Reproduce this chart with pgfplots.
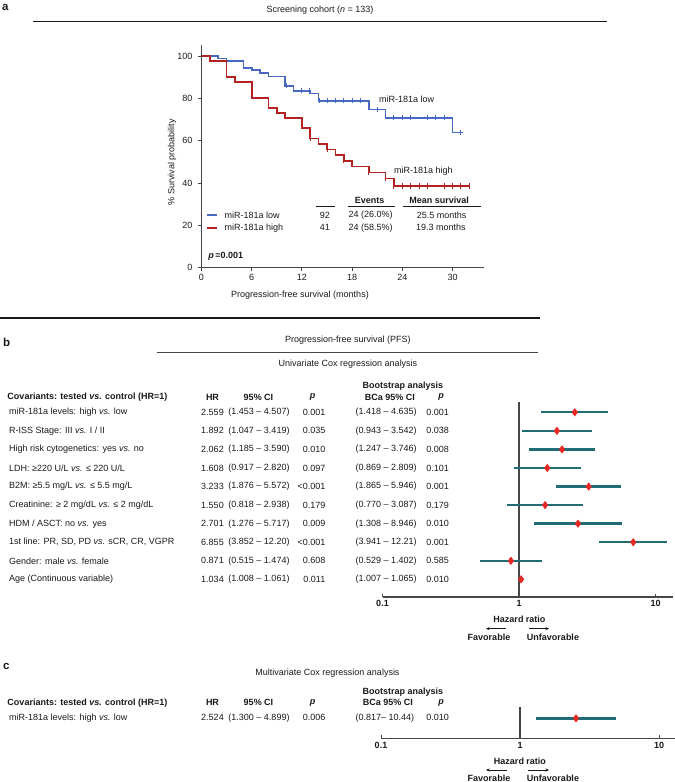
\documentclass[border=0pt]{standalone}
\usepackage{fontspec}
\setmainfont{Liberation Sans}
\usepackage{pgfplots}
\pgfplotsset{compat=1.18}
\usepackage{pgfplotstable}
\usetikzlibrary{arrows.meta}
\definecolor{kmblue}{RGB}{72,104,196}
\definecolor{kmred}{RGB}{178,34,34}
\definecolor{barteal}{RGB}{33,108,116}
\definecolor{dmdred}{RGB}{230,40,35}
\definecolor{txt}{RGB}{25,25,25}
\definecolor{axgray}{RGB}{70,70,70}
\newcommand\tf{\fontsize{9bp}{11bp}\selectfont}
\newcommand\lf{\fontsize{11.5bp}{13bp}\selectfont\bfseries}

\pgfplotstableread{
hr lo hi y
2.559 1.453 4.507 0
1.892 1.047 3.419 -1
2.062 1.185 3.590 -2
1.608 0.917 2.820 -3
3.233 1.876 5.572 -4
1.550 0.818 2.938 -5
2.701 1.276 5.717 -6
6.855 3.852 12.20 -7
0.871 0.515 1.474 -8
1.034 1.008 1.061 -9
}\uniTable
\pgfplotstableread{
hr lo hi y
2.524 1.300 4.899 0
}\multiTable

\newcommand\trow[7]{%
 \node[anchor=west] at (9,#1) {#2};
 \node at (212.5,#1) {#3};
 \node at (259,#1) {#4};
 \node[anchor=east] at (325.5,#1) {#5};
 \node[anchor=west] at (355.5,#1) {#6};
 \node at (437.7,#1) {#7};
}

\begin{document}
\begin{tikzpicture}
\useasboundingbox (0bp,0bp) rectangle (675bp,-782bp);

% ---------------- Panel a: Kaplan-Meier ----------------
\begin{axis}[
 at={(201.5bp,-267.5bp)}, anchor=south west,
 width=282bp, height=223bp, scale only axis,
 xmin=0, xmax=33.7, ymin=0, ymax=105.5,
 axis lines=left, axis line style={axgray, line width=0.9bp, -},
 xtick={0,6,...,30}, ytick={0,20,...,100},
 tick align=outside, major tick length=3.5bp,
 tick style={axgray, line width=0.9bp},
 ticklabel style={font=\tf, text=txt},
 yticklabel style={xshift=-2bp},
 /pgf/number format/assume math mode=true,
 clip=false,
]
\addplot[kmblue, line width=1.6bp, const plot, mark=none] coordinates {
(0,100) (2,98.9) (3,97.8) (5,94.5) (6,93.3) (7,92.0) (8,90.4) (10,86.0)
(11,83.6) (13,82.4) (14,78.9) (20,74.8) (22,70.8) (30,63.9) (31.2,63.9)};
\addplot[kmblue, only marks, mark=|, mark size=2.6bp, mark options={line width=1bp}] coordinates {
(10.1,86.0) (12,83.6) (12.9,83.6) (14.1,78.9) (15,78.9) (16,78.9) (17,78.9) (18,78.9) (19,78.9)
(21,74.8) (23,70.8) (24,70.8) (25,70.8) (27,70.8) (28,70.8) (29,70.8) (31,63.9)};
\addplot[kmred, line width=1.6bp, const plot, mark=none] coordinates {
(0,100) (1,97.6) (3,90.1) (4,87.7) (6,80.2) (8,75.5) (9,73.2) (10,70.7) (12,65.9)
(13,61.0) (14,58.4) (15,55.9) (16,53.2) (17,50.5) (18,47.7) (20,45.0) (22,42.2)
(23,38.6) (32.1,38.6)};
\addplot[kmred, only marks, mark=|, mark size=2.6bp, mark options={line width=1bp}] coordinates {
(13,61.0) (15,55.9) (17,50.5) (20,45.0) (22,42.2) (23,38.6) (24,38.6) (25,38.6)
(26,38.6) (27,38.6) (29,38.6) (30,38.6) (31,38.6) (32,38.6)};
\node[anchor=west, font=\tf, text=txt] at (axis cs:20.8,79.8) {miR-181a low};
\node[anchor=west, font=\tf, text=txt] at (axis cs:22.6,45.6) {miR-181a high};
% legend table
\draw[kmblue, line width=1.6bp] (axis cs:0.6,24.8) -- (axis cs:1.85,24.8);
\draw[kmred, line width=1.6bp] (axis cs:0.6,18.8) -- (axis cs:1.85,18.8);
\node[anchor=west, font=\tf, text=txt] at (axis cs:2.35,24.8) {miR-181a low};
\node[anchor=west, font=\tf, text=txt] at (axis cs:2.35,18.8) {miR-181a high};
\node[font=\tf, text=txt] at (axis cs:14.75,24.8) {92};
\node[font=\tf, text=txt] at (axis cs:14.75,18.8) {41};
\node[font=\tf, text=txt] at (axis cs:20.2,24.8) {24 (26.0\%)};
\node[font=\tf, text=txt] at (axis cs:20.2,18.8) {24 (58.5\%)};
\node[font=\tf, text=txt] at (axis cs:28.7,24.8) {25.5 months};
\node[font=\tf, text=txt] at (axis cs:28.6,18.8) {19.3 months};
\node[font=\tf\bfseries, text=txt] at (axis cs:20.1,31.6) {Events};
\node[font=\tf\bfseries, text=txt] at (axis cs:28.4,31.6) {Mean survival};
\draw[txt, line width=0.9bp] (axis cs:13.7,29.1) -- (axis cs:15.9,29.1);
\draw[txt, line width=0.9bp] (axis cs:17.5,29.1) -- (axis cs:23.1,29.1);
\draw[txt, line width=0.9bp] (axis cs:24.1,29.1) -- (axis cs:33.4,29.1);
\node[anchor=west, font=\tf\bfseries, text=txt] at (axis cs:0.4,5.1) {\textit{p}\,=0.001};
\end{axis}

% ---------------- Panel b: forest ----------------
\begin{axis}[
 at={(382.5bp,-597bp)}, anchor=south west,
 width=290.5bp, height=195.3bp, scale only axis,
 xmode=log, xmin=0.1, xmax=13.4, ymin=-9.95, ymax=0.57,
 axis x line*=bottom, axis y line=none,
 axis line style={axgray, line width=1.3bp, -},
 xtick={0.1,1,10}, xticklabels={0.1,1,10},
 minor xtick={}, minor tick length=0pt, minor tick style={draw=none},
 tick align=inside, major tick length=3bp,
 tick style={axgray, line width=1bp},
 xticklabel style={font=\tf\bfseries, text=txt},
 /pgf/number format/assume math mode=true,
 clip=false,
]
\addplot[axgray, line width=1.8bp] coordinates {(1,-9.95) (1,0.57)};
\addplot[barteal, line width=2.4bp, unbounded coords=jump] coordinates {
(1.453,0) (4.507,0) (nan,nan)
(1.047,-1) (3.419,-1) (nan,nan)
(1.185,-2) (3.590,-2) (nan,nan)
(0.917,-3) (2.820,-3) (nan,nan)
(1.876,-4) (5.572,-4) (nan,nan)
(0.818,-5) (2.938,-5) (nan,nan)
(1.276,-6) (5.717,-6) (nan,nan)
(3.852,-7) (12.20,-7) (nan,nan)
(0.515,-8) (1.474,-8) (nan,nan)
(1.008,-9) (1.061,-9)};
\addplot[only marks, mark=diamond*, mark size=3.8bp, color=dmdred] table[x=hr, y=y] {\uniTable};
\end{axis}

% ---------------- Panel c: forest ----------------
\begin{axis}[
 at={(381bp,-738.3bp)}, anchor=south west,
 width=294bp, height=31.6bp, scale only axis,
 xmode=log, xmin=0.1, xmax=13.0, ymin=-1, ymax=0.58,
 axis x line*=bottom, axis y line=none,
 axis line style={axgray, line width=1.3bp, -},
 xtick={0.1,1,10}, xticklabels={0.1,1,10},
 minor xtick={}, minor tick length=0pt, minor tick style={draw=none},
 tick align=inside, major tick length=3bp,
 tick style={axgray, line width=1bp},
 xticklabel style={font=\tf\bfseries, text=txt},
 /pgf/number format/assume math mode=true,
 clip=false,
]
\addplot[axgray, line width=1.8bp] coordinates {(1,-1) (1,0.58)};
\addplot[barteal, line width=2.4bp] coordinates {(1.300,0) (4.899,0)};
\addplot[only marks, mark=diamond*, mark size=3.8bp, color=dmdred] table[x=hr, y=y] {\multiTable};
\end{axis}

% ---------------- Text and rules ----------------
\begin{scope}[x=1bp, y=-1bp, every node/.style={font=\tf, text=txt, inner sep=0pt}]
% panel a
\node[anchor=west, font=\lf] at (2,7) {a};
\node at (320,10) {Screening cohort (\textit{n} = 133)};
\draw[txt, line width=1bp] (33,21) -- (607,21);
\node[rotate=90] at (172,162) {\% Survival probability};
\node at (300,295) {Progression-free survival (months)};
\draw[txt, line width=1.5bp] (0,318) -- (540,318);
% panel b
\node[anchor=west, font=\lf] at (3,342) {b};
\node at (348,340) {Progression-free survival (PFS)};
\draw[axgray, line width=1bp] (157,352) -- (538,352);
\node at (348,364) {Univariate Cox regression analysis};
\node[font=\tf\bfseries] at (403,386) {Bootstrap analysis};
\node[anchor=west, font=\tf\bfseries] at (7.3,397.5) {Covariants: tested \textit{vs.} control (HR=1)};
\node[font=\tf\bfseries] at (212.5,397.5) {HR};
\node[font=\tf\bfseries] at (258.5,397.5) {95\% CI};
\node[font=\tf\bfseries] at (312.5,397.5) {\textit{p}};
\node[font=\tf\bfseries] at (390,397.5) {BCa 95\% CI};
\node[font=\tf\bfseries] at (441,397.5) {\textit{p}};
\trow{412.3}{miR-181a levels: high \textit{vs.} low}{2.559}{(1.453 – 4.507)}{0.001}{(1.418 – 4.635)}{0.001}
\trow{430.9}{R-ISS Stage: III \textit{vs.} I / II}{1.892}{(1.047 – 3.419)}{0.035}{(0.943 – 3.542)}{0.038}
\trow{449.4}{High risk cytogenetics: yes \textit{vs.} no}{2.062}{(1.185 – 3.590)}{0.010}{(1.247 – 3.746)}{0.008}
\trow{468.0}{LDH: ≥220 U/L \textit{vs.} ≤ 220 U/L}{1.608}{(0.917 – 2.820)}{0.097}{(0.869 – 2.809)}{0.101}
\trow{486.5}{B2M: ≥5.5 mg/L \textit{vs.} ≤ 5.5 mg/L}{3.233}{(1.876 – 5.572)}{<0.001}{(1.865 – 5.946)}{0.001}
\trow{505.1}{Creatinine: ≥ 2 mg/dL \textit{vs.} ≤ 2 mg/dL}{1.550}{(0.818 – 2.938)}{0.179}{(0.770 – 3.087)}{0.179}
\trow{523.7}{HDM / ASCT: no \textit{vs.} yes}{2.701}{(1.276 – 5.717)}{0.009}{(1.308 – 8.946)}{0.010}
\trow{542.2}{1st line: PR, SD, PD \textit{vs.} sCR, CR, VGPR}{6.855}{(3.852 – 12.20)}{<0.001}{(3.941 – 12.21)}{0.001}
\trow{560.8}{Gender: male \textit{vs.} female}{0.871}{(0.515 – 1.474)}{0.608}{(0.529 – 1.402)}{0.585}
\trow{579.3}{Age (Continuous variable)}{1.034}{(1.008 – 1.061)}{0.011}{(1.007 – 1.065)}{0.010}
\node[font=\tf\bfseries] at (519.5,619.7) {Hazard ratio};
\draw[-{Stealth[length=3.5bp,width=3bp]}, line width=0.8bp, txt] (506,628.7) -- (486,628.7);
\draw[-{Stealth[length=3.5bp,width=3bp]}, line width=0.8bp, txt] (529,628.7) -- (549,628.7);
\node[font=\tf\bfseries] at (489,637.5) {Favorable};
\node[font=\tf\bfseries] at (553,637.5) {Unfavorable};
% panel c
\node[anchor=west, font=\lf] at (3,666) {c};
\node at (327.5,673.3) {Multivariate Cox regression analysis};
\node[font=\tf\bfseries] at (403,691.7) {Bootstrap analysis};
\node[anchor=west, font=\tf\bfseries] at (7.3,702.7) {Covariants: tested \textit{vs.} control (HR=1)};
\node[font=\tf\bfseries] at (212.5,702.7) {HR};
\node[font=\tf\bfseries] at (258.5,702.7) {95\% CI};
\node[font=\tf\bfseries] at (312.5,702.7) {\textit{p}};
\node[font=\tf\bfseries] at (388,702.7) {BCa 95\% CI};
\node[font=\tf\bfseries] at (441,702.7) {\textit{p}};
\trow{717.8}{miR-181a levels: high \textit{vs.} low}{2.524}{(1.300 – 4.899)}{0.006}{(0.817– 10.44)}{0.010}
\node[font=\tf\bfseries] at (520,761) {Hazard ratio};
\draw[-{Stealth[length=3.5bp,width=3bp]}, line width=0.8bp, txt] (507,770) -- (486,770);
\draw[-{Stealth[length=3.5bp,width=3bp]}, line width=0.8bp, txt] (528,770) -- (549,770);
\node[font=\tf\bfseries] at (489,778.3) {Favorable};
\node[font=\tf\bfseries] at (553,778.3) {Unfavorable};
\end{scope}
\end{tikzpicture}
\end{document}
